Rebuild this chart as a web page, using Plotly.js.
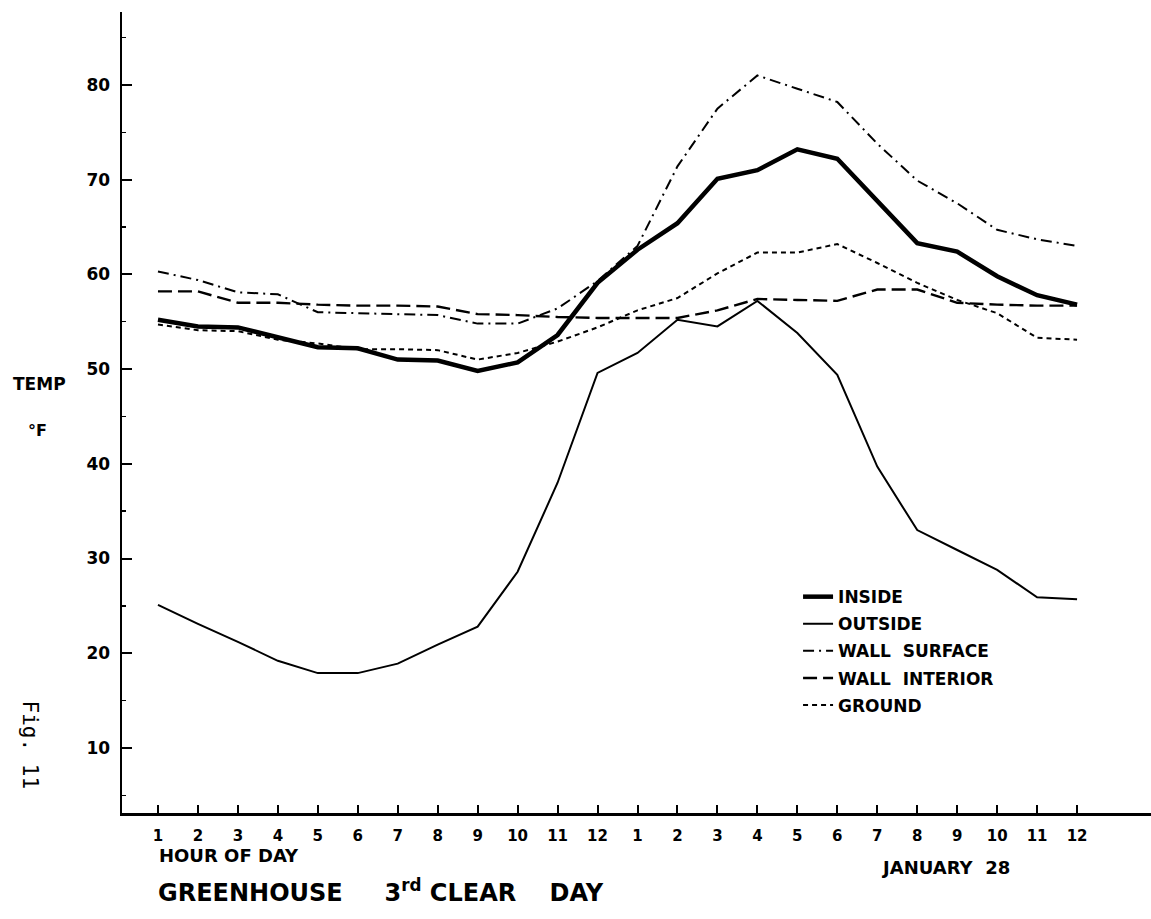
<!DOCTYPE html>
<html>
<head>
<meta charset="utf-8">
<script src="https://cdn.plot.ly/plotly-3.0.1.min.js"></script>
<style>html,body{margin:0;padding:0;background:#fff;}#chart{width:1151px;height:919px;}</style>
</head>
<body>
<div id="chart"></div>
<script>
// Hour index positions (0..23) and their tick labels
const hourIndex = [0,1,2,3,4,5,6,7,8,9,10,11,12,13,14,15,16,17,18,19,20,21,22,23];
const hourLabels = ["1","2","3","4","5","6","7","8","9","10","11","12","1","2","3","4","5","6","7","8","9","10","11","12"];

// Temperatures (°F)
const inside = [55.2,54.5,54.4,53.4,52.3,52.2,51.0,50.9,49.8,50.7,53.6,59.1,62.6,65.4,70.1,71.0,73.2,72.2,67.7,63.3,62.4,59.8,57.8,56.8];
const outside = [25.1,23.1,21.2,19.2,17.9,17.9,18.9,20.9,22.8,28.6,38.0,49.6,51.7,55.2,54.5,57.2,53.8,49.4,39.7,33.0,30.9,28.8,25.9,25.7];
const wallSurface = [60.3,59.4,58.1,57.9,56.0,55.9,55.8,55.7,54.8,54.8,56.4,59.3,63.0,71.4,77.5,81.0,79.6,78.2,73.8,69.9,67.5,64.7,63.7,63.0];
const wallInterior = [58.2,58.2,57.0,57.0,56.8,56.7,56.7,56.6,55.8,55.7,55.5,55.4,55.4,55.4,56.2,57.4,57.3,57.2,58.4,58.4,57.0,56.8,56.7,56.7];
const ground = [54.7,54.1,54.0,53.1,52.7,52.1,52.1,52.0,51.0,51.7,52.9,54.4,56.2,57.5,60.1,62.3,62.3,63.2,61.2,59.1,57.3,55.9,53.3,53.1];

const seriesNames = ["INSIDE","OUTSIDE","WALL\u00A0\u00A0SURFACE","WALL\u00A0\u00A0INTERIOR","GROUND"];
const yTickVals = [10,20,30,40,50,60,70,80];

const FONT = "DejaVu Sans, Liberation Sans, Arial, sans-serif";

const styles = [
  {width:4.5, dash:"solid"},
  {width:2, dash:"solid"},
  {width:2, dash:"11px,5px,2px,5px"},
  {width:2.4, dash:"14px,6px"},
  {width:2, dash:"5px,4px"}
];
const values = [inside, outside, wallSurface, wallInterior, ground];

const traces = values.map((v,i)=>({
  x: hourIndex, y: v, type:"scatter", mode:"lines",
  name: seriesNames[i], legendgroup: "g"+i,
  line: {color:"#000", width: styles[i].width, dash: styles[i].dash}
}));

const layout = {
  width:1151, height:919,
  paper_bgcolor:"#fff", plot_bgcolor:"#fff",
  margin:{l:122, r:0, t:12, b:106, pad:0},
  showlegend:true,
  legend:{x:0.657, y:0.292, xanchor:"left", yanchor:"top",
    bgcolor:"rgba(0,0,0,0)", tracegroupgap:2,
    font:{family:FONT, size:17, color:"#000", weight:"bold"}},
  xaxis:{
    range:[-0.9, 24.85], showgrid:false, zeroline:false,
    showline:true, linecolor:"#000", linewidth:2.5,
    tickmode:"array", tickvals:hourIndex, ticktext:hourLabels,
    ticks:"inside", ticklen:8, tickwidth:2, tickcolor:"#000",
    ticklabelstandoff:7,
    tickfont:{family:FONT, size:15, color:"#000", weight:"bold"}
  },
  yaxis:{
    range:[3.13, 87.7], showgrid:false, zeroline:false,
    showline:true, linecolor:"#000", linewidth:2.5,
    tickmode:"array", tickvals:yTickVals,
    ticks:"inside", ticklen:10, tickwidth:2, tickcolor:"#000",
    ticklabelstandoff:6,
    minor:{dtick:5, tick0:0, ticks:"inside", ticklen:4, tickwidth:1.5, tickcolor:"#000"},
    tickfont:{family:FONT, size:17, color:"#000", weight:"bold"}
  },
  annotations:[
    {text:"TEMP", xref:"paper", yref:"paper", x:-0.0797, y:(813-384)/801, xanchor:"center", yanchor:"middle",
     showarrow:false, font:{family:FONT, size:17, color:"#000", weight:"bold"}},
    {text:"°F", xref:"paper", yref:"paper", x:-0.0826, y:(813-431)/801, xanchor:"center", yanchor:"middle",
     showarrow:false, font:{family:FONT, size:16, color:"#000", weight:"bold"}},
    {text:"Fig. 11", xref:"paper", yref:"paper", x:-0.089, y:(813-745)/801, xanchor:"center", yanchor:"middle",
     textangle:90, showarrow:false, font:{family:"DejaVu Sans Mono, Liberation Mono, monospace", size:21, color:"#000"}},
    {text:"HOUR OF DAY", xref:"paper", yref:"paper", x:(157-122)/1029, y:(813-856)/801, xanchor:"left", yanchor:"middle",
     showarrow:false, font:{family:FONT, size:18, color:"#000", weight:"bold"}},
    {text:"JANUARY\u00A0\u00A028", xref:"paper", yref:"paper", x:(879-122)/1029, y:(813-867)/801, xanchor:"left", yanchor:"middle",
     showarrow:false, font:{family:FONT, size:18, color:"#000", weight:"bold"}},
    {text:"GREENHOUSE\u00A0\u00A0\u00A0\u00A0\u00A03<sup>rd</sup> CLEAR\u00A0\u00A0\u00A0\u00A0DAY", xref:"paper", yref:"paper",
     x:(156-122)/1029, y:(813-891)/801, xanchor:"left", yanchor:"middle",
     showarrow:false, font:{family:FONT, size:24, color:"#000", weight:"bold"}}
  ]
};

Plotly.newPlot("chart", traces, layout, {staticPlot:true, displayModeBar:false});
</script>
</body>
</html>
